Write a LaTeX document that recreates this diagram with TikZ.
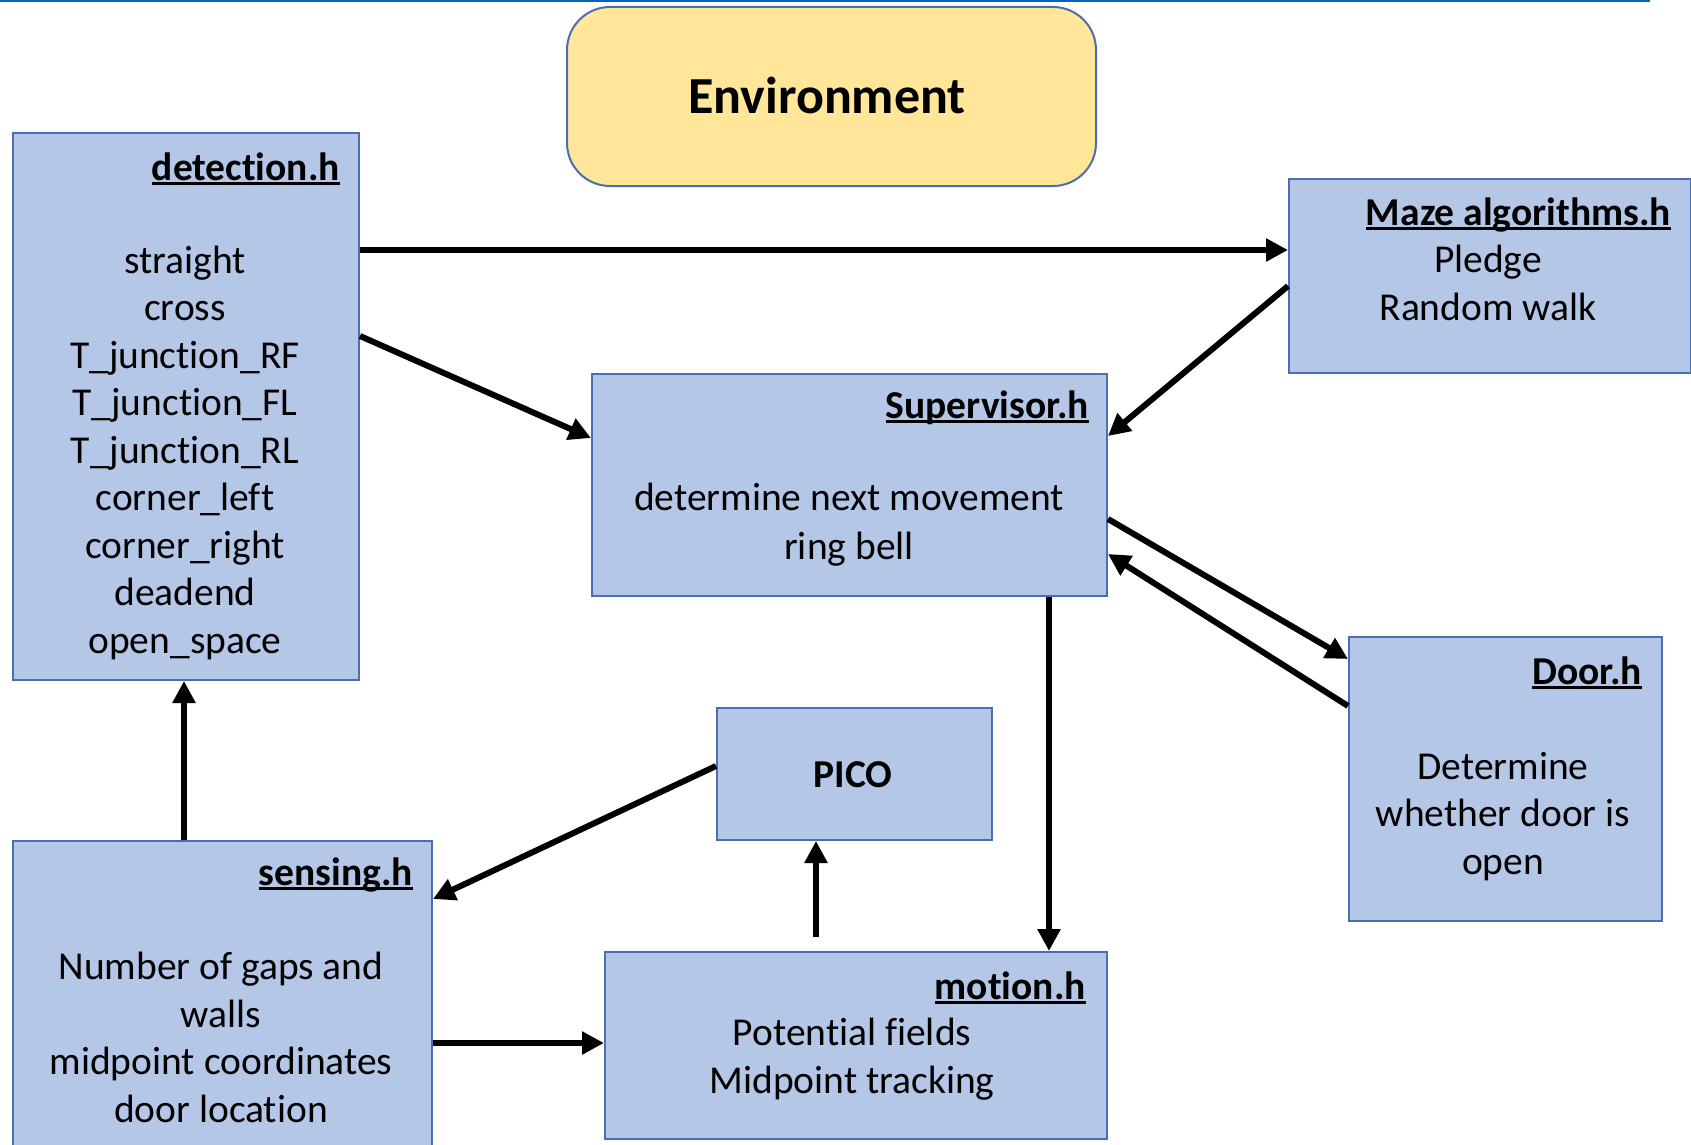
\documentclass[tikz,border=0pt]{standalone}
\usepackage{fontspec}
\setmainfont[Ligatures=NoCommon]{Carlito}
\usetikzlibrary{arrows.meta}
\definecolor{boxfill}{HTML}{B4C7E7}
\definecolor{boxline}{HTML}{4A6EB0}
\definecolor{envfill}{HTML}{FFE699}
\definecolor{topblue}{HTML}{0563C1}
\newcommand\ulhead[1]{\setbox0\hbox{#1}\rlap{\rule[-4.5pt]{\wd0}{2.4pt}}\box0}
\tikzset{
  modbox/.style={draw=boxline, fill=boxfill, line width=2pt, inner sep=0pt, anchor=north west},
  envbox/.style={draw=boxline, fill=envfill, line width=2pt, inner sep=0pt, anchor=north west, rounded corners=43pt},
  headtxt/.style={inner sep=0pt, anchor=base east, font=\fontsize{39.5}{47.5}\selectfont\bfseries},
  bodytxt/.style={inner sep=0pt, align=center, font=\fontsize{39.5}{47.5}\selectfont},
  arr/.style={line width=6pt, -{Triangle[length=22pt,width=22pt]}}
}
\begin{document}
\begin{tikzpicture}[x=1pt,y=-1pt]
\useasboundingbox (0,0) rectangle (1691,1145);
\begin{scope}
\clip (0,0) rectangle (1691,1145);
\draw[topblue, line width=2.5pt] (0,1) -- (1650,1);
% boxes
\node[envbox, minimum width=529pt, minimum height=179pt] (env) at (566,6) {};
\node[modbox, minimum width=346pt, minimum height=547pt] (det) at (12,132) {};
\node[modbox, minimum width=402pt, minimum height=194pt] (maze) at (1288,178) {};
\node[modbox, minimum width=515pt, minimum height=222pt] (sup) at (591,373) {};
\node[modbox, minimum width=313pt, minimum height=284pt] (door) at (1348,636) {};
\node[modbox, minimum width=275pt, minimum height=132pt] (pico) at (716,707) {};
\node[modbox, minimum width=419pt, minimum height=330pt] (sens) at (12,840) {};
\node[modbox, minimum width=502pt, minimum height=187pt] (mot) at (604,951) {};
\end{scope}
% texts
\node[inner sep=0pt, font=\fontsize{52}{60}\selectfont\bfseries] (envT) at (827,95) {Environment};
\node[headtxt] (detT) at (340,180) {\ulhead{detection.h}};
\node[bodytxt] (detB) at (185,452.5) {straight\\cross\\T\_junction\_RF\\T\_junction\_FL\\T\_junction\_RL\\corner\_left\\corner\_right\\deadend\\open\_space};
\node[headtxt] (mazeT) at (1671,225) {\ulhead{Maze algorithms.h}};
\node[bodytxt] (mazeB) at (1488,283) {Pledge\\Random walk};
\node[headtxt] (supT) at (1089,418) {\ulhead{Supervisor.h}};
\node[bodytxt, font=\fontsize{39.5}{49}\selectfont] (supB) at (849,525) {determine next movement\\ring bell};
\node[headtxt] (doorT) at (1642,684) {\ulhead{Door.h}};
\node[bodytxt] (doorB) at (1503,816.5) {Determine\\whether door is\\open};
\node[inner sep=0pt, font=\fontsize{39.5}{47.5}\selectfont\bfseries] (picoT) at (853,775) {PICO};
\node[headtxt] (sensT) at (413,885) {\ulhead{sensing.h}};
\node[bodytxt] (sensB) at (221,1037.5) {Number of gaps and\\walls\\midpoint coordinates\\door location};
\node[headtxt] (motT) at (1086,999) {\ulhead{motion.h}};
\node[bodytxt] (motB) at (852,1059) {Potential fields\\Midpoint tracking};
% connectors
\draw[arr] ([yshift=-118pt]det.north east) -- ([yshift=-72pt]maze.north west);
\draw[arr] ([yshift=-204pt]det.north east) -- ([yshift=-65pt]sup.north west);
\draw[arr] ([yshift=-108pt]maze.north west) -- ([yshift=-63pt]sup.north east);
\draw[arr] ([yshift=-146pt]sup.north east) -- ([yshift=-23pt]door.north west);
\draw[arr] ([yshift=-70pt]door.north west) -- ([yshift=-181pt]sup.north east);
\draw[arr] ([xshift=458pt]sup.south west) -- ([xshift=445pt]mot.north west);
\draw[arr] ([xshift=172pt]sens.north west) -- ([xshift=172pt]det.south west);
\draw[arr] ([yshift=-59pt]pico.north west) -- ([yshift=-59pt]sens.north east);
\coordinate (motout) at (816,937);
\draw[arr] (motout) -- ([xshift=100pt]pico.south west);
\draw[arr] ([yshift=-203pt]sens.north east) -- ([yshift=-92pt]mot.north west);
\end{tikzpicture}
\end{document}
